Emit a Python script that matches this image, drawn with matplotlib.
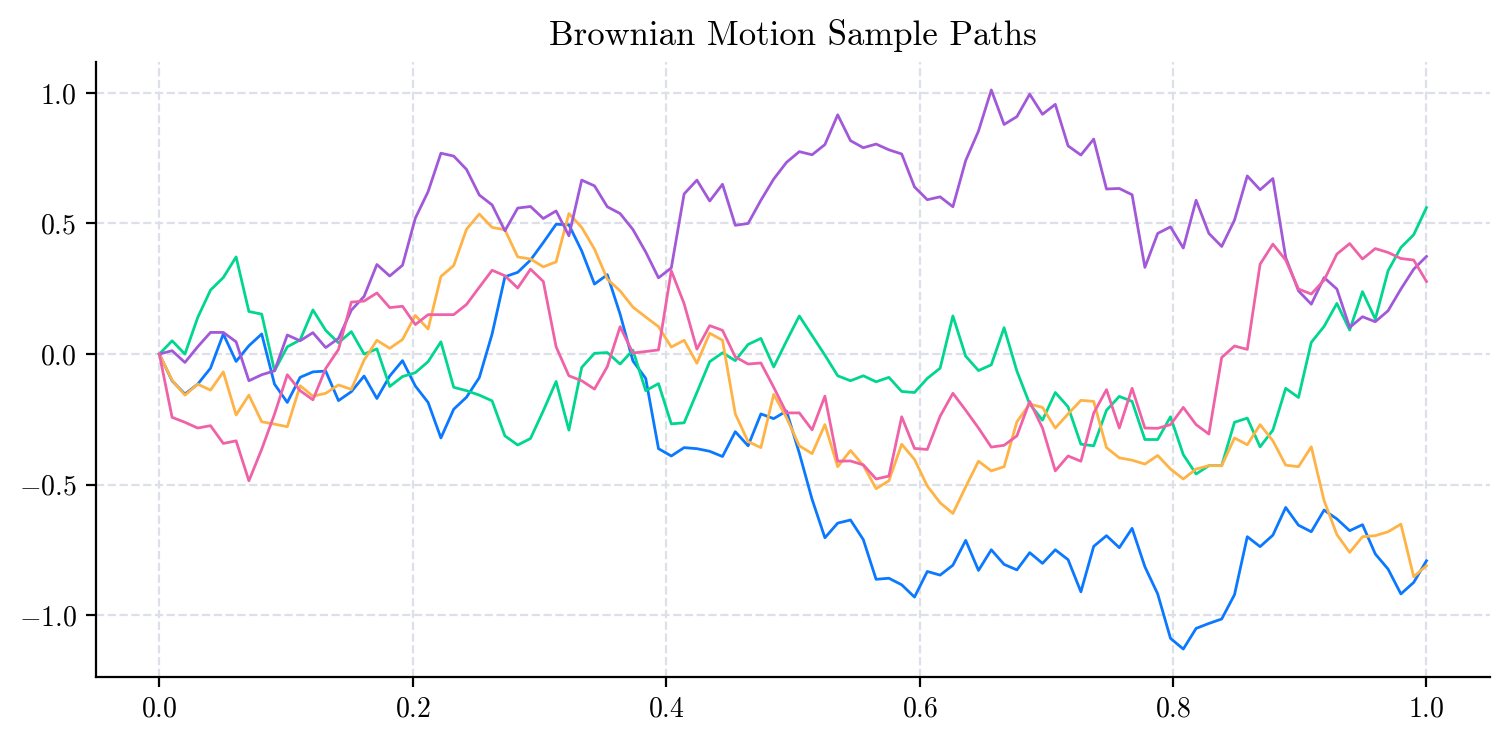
import numpy as np
import matplotlib
matplotlib.use("Agg")
import matplotlib.pyplot as plt

plt.rcParams['font.family'] = 'serif'
plt.rcParams['font.serif'] = ['cmr10', 'DejaVu Serif']
plt.rcParams['mathtext.fontset'] = 'cm'
plt.rcParams['axes.formatter.use_mathtext'] = True

# time grid: 100 samples on [0, 1]
t = np.linspace(0, 1, 100)

path_blue = [
    0.0, -0.102, -0.153, -0.115, -0.054, 0.077, -0.028, 0.032, 0.077, -0.115,
    -0.185, -0.089, -0.068, -0.065, -0.178, -0.144, -0.084, -0.170, -0.084, -0.025,
    -0.122, -0.185, -0.321, -0.211, -0.165, -0.090, 0.077, 0.296, 0.313, 0.360,
    0.427, 0.497, 0.495, 0.395, 0.268, 0.304, 0.153, -0.026, -0.093, -0.362,
    -0.390, -0.358, -0.362, -0.372, -0.392, -0.297, -0.351, -0.229, -0.247, -0.218,
    -0.379, -0.556, -0.703, -0.647, -0.635, -0.710, -0.862, -0.858, -0.883, -0.930,
    -0.832, -0.846, -0.808, -0.713, -0.828, -0.749, -0.805, -0.826, -0.760, -0.801,
    -0.749, -0.787, -0.910, -0.736, -0.695, -0.741, -0.667, -0.814, -0.918, -1.088,
    -1.129, -1.050, -1.031, -1.014, -0.921, -0.699, -0.737, -0.693, -0.587, -0.655,
    -0.680, -0.597, -0.631, -0.676, -0.653, -0.765, -0.823, -0.918, -0.874, -0.791,
]

path_green = [
    0.0, 0.051, 0.0, 0.140, 0.245, 0.293, 0.372, 0.163, 0.153, -0.064,
    0.028, 0.054, 0.169, 0.091, 0.043, 0.086, 0.0, 0.020, -0.124, -0.086,
    -0.071, -0.029, 0.047, -0.127, -0.140, -0.157, -0.179, -0.313, -0.348, -0.323,
    -0.217, -0.105, -0.291, -0.051, 0.003, 0.006, -0.038, 0.015, -0.140, -0.113,
    -0.267, -0.263, -0.147, -0.029, 0.005, -0.025, 0.037, 0.060, -0.049, 0.050,
    0.146, 0.071, -0.004, -0.083, -0.102, -0.083, -0.106, -0.089, -0.143, -0.147,
    -0.093, -0.054, 0.146, -0.008, -0.063, -0.041, 0.101, -0.065, -0.191, -0.253,
    -0.147, -0.202, -0.345, -0.351, -0.215, -0.162, -0.181, -0.327, -0.327, -0.240,
    -0.385, -0.459, -0.427, -0.427, -0.261, -0.245, -0.355, -0.291, -0.131, -0.166,
    0.045, 0.106, 0.194, 0.092, 0.239, 0.134, 0.319, 0.408, 0.457, 0.561,
]

path_orange = [
    0.0, -0.100, -0.157, -0.115, -0.138, -0.068, -0.233, -0.157, -0.259, -0.268,
    -0.278, -0.121, -0.161, -0.150, -0.118, -0.135, -0.023, 0.053, 0.022, 0.056,
    0.148, 0.096, 0.297, 0.339, 0.478, 0.536, 0.485, 0.476, 0.372, 0.364,
    0.334, 0.353, 0.538, 0.485, 0.402, 0.287, 0.242, 0.180, 0.142, 0.105,
    0.027, 0.053, -0.035, 0.080, 0.053, -0.229, -0.335, -0.358, -0.154, -0.243,
    -0.351, -0.381, -0.270, -0.431, -0.369, -0.426, -0.515, -0.485, -0.345, -0.403,
    -0.505, -0.569, -0.610, -0.508, -0.410, -0.447, -0.431, -0.259, -0.191, -0.204,
    -0.283, -0.229, -0.177, -0.181, -0.358, -0.397, -0.406, -0.421, -0.388, -0.440,
    -0.478, -0.440, -0.427, -0.427, -0.321, -0.347, -0.270, -0.332, -0.425, -0.431,
    -0.355, -0.561, -0.691, -0.759, -0.699, -0.695, -0.680, -0.651, -0.852, -0.810,
]

path_purple = [
    0.0, 0.013, -0.032, 0.028, 0.083, 0.083, 0.047, -0.102, -0.079, -0.064,
    0.073, 0.051, 0.082, 0.025, 0.060, 0.168, 0.221, 0.343, 0.299, 0.340,
    0.520, 0.622, 0.769, 0.758, 0.707, 0.609, 0.571, 0.472, 0.559, 0.565,
    0.519, 0.548, 0.453, 0.666, 0.644, 0.564, 0.538, 0.477, 0.391, 0.292,
    0.330, 0.613, 0.666, 0.586, 0.650, 0.493, 0.500, 0.589, 0.670, 0.734,
    0.775, 0.763, 0.802, 0.916, 0.817, 0.790, 0.804, 0.782, 0.766, 0.640,
    0.591, 0.602, 0.564, 0.741, 0.854, 1.011, 0.879, 0.909, 0.995, 0.918,
    0.956, 0.797, 0.762, 0.823, 0.632, 0.634, 0.610, 0.332, 0.462, 0.487,
    0.406, 0.589, 0.462, 0.412, 0.513, 0.682, 0.629, 0.672, 0.370, 0.242,
    0.191, 0.293, 0.249, 0.102, 0.143, 0.124, 0.166, 0.249, 0.325, 0.374,
]

path_pink = [
    0.0, -0.242, -0.261, -0.283, -0.274, -0.342, -0.332, -0.485, -0.364, -0.230,
    -0.079, -0.140, -0.175, -0.055, 0.018, 0.199, 0.203, 0.234, 0.178, 0.183,
    0.113, 0.151, 0.151, 0.151, 0.190, 0.256, 0.321, 0.300, 0.253, 0.325,
    0.278, 0.028, -0.083, -0.102, -0.134, -0.048, 0.105, 0.004, 0.010, 0.016,
    0.319, 0.193, 0.019, 0.109, 0.091, -0.011, -0.038, -0.034, -0.127, -0.225,
    -0.225, -0.290, -0.161, -0.410, -0.409, -0.424, -0.478, -0.467, -0.240, -0.361,
    -0.365, -0.238, -0.150, -0.215, -0.283, -0.356, -0.349, -0.313, -0.181, -0.283,
    -0.447, -0.390, -0.410, -0.226, -0.136, -0.283, -0.131, -0.283, -0.284, -0.270,
    -0.204, -0.270, -0.306, -0.013, 0.031, 0.018, 0.344, 0.421, 0.360, 0.249,
    0.230, 0.283, 0.383, 0.423, 0.364, 0.404, 0.389, 0.366, 0.360, 0.278,
]

paths = [path_blue, path_green, path_orange, path_purple, path_pink]
colors = ['#0a78ff', '#00d68f', '#ffb347', '#a259d9', '#f062a8']

fig, ax = plt.subplots(figsize=(7.555, 3.71), dpi=200)
fig.subplots_adjust(left=0.0635, right=0.986, bottom=0.0876, top=0.9164)

for p, c in zip(paths, colors):
    ax.plot(t, p, color=c, linewidth=1.0)

ax.set_title("Brownian Motion Sample Paths", fontsize=12.5)
ax.grid(True, linestyle='--', color='#dde0e8', linewidth=0.8)
ax.set_axisbelow(True)
ax.spines['top'].set_visible(False)
ax.spines['right'].set_visible(False)
ax.tick_params(labelsize=10)
ax.set_yticks([-1.0, -0.5, 0.0, 0.5, 1.0])

fig.savefig("out.png", dpi=200)
